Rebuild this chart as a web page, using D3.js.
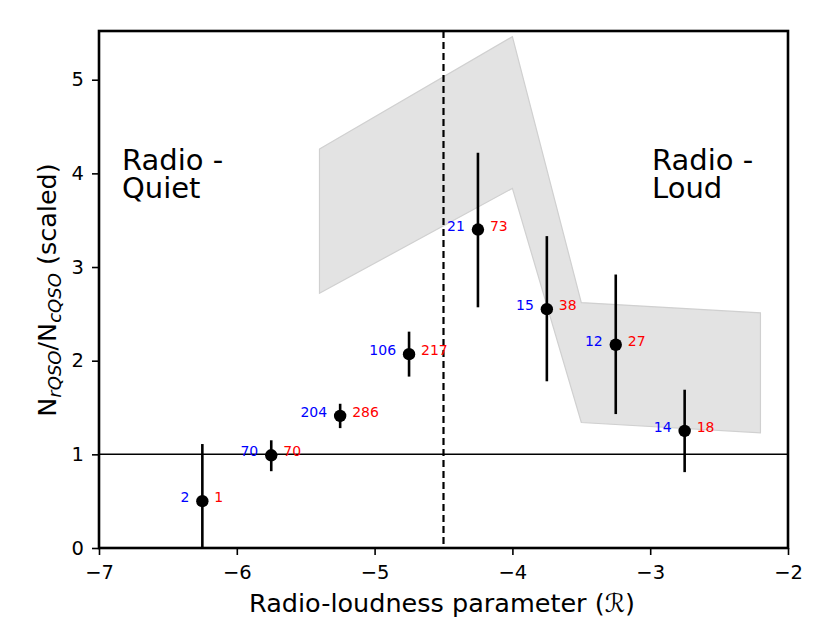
<!DOCTYPE html>
<html>
<head>
<meta charset="utf-8">
<script src="https://cdn.jsdelivr.net/npm/d3@7"></script>
<style>
  body { margin: 0; background: #fff; }
  text { font-family: "DejaVu Sans", sans-serif; }
</style>
</head>
<body>
<script>
// binned radio-loudness data
const xVals = [-6.25, -5.75, -5.25, -4.75, -4.25, -3.75, -3.25, -2.75]
const yVals = [0.50, 0.99, 1.41, 2.07, 3.40, 2.55, 2.17, 1.25]
const yLow = [-0.2, 0.82, 1.28, 1.83, 2.57, 1.78, 1.43, 0.81]
const yHigh = [1.11, 1.15, 1.54, 2.31, 4.22, 3.33, 2.92, 1.69]
const nBlue = [2, 70, 204, 106, 21, 15, 12, 14]
const nRed = [1, 70, 286, 217, 73, 38, 27, 18]

// shaded band
const bandX = [-5.4, -4.0, -3.5, -2.2]
const bandUpper = [4.26, 5.46, 2.62, 2.51]
const bandLower = [2.72, 3.84, 1.34, 1.23]

const xTicks = [-7, -6, -5, -4, -3, -2]
const yTicks = [0, 1, 2, 3, 4, 5]

const W = 830, H = 623
const m = { left: 99, right: 42, top: 31, bottom: 75 }

const svg = d3.select('body').append('svg')
    .attr('width', W)
    .attr('height', H)

const x = d3.scaleLinear().domain([-7, -2]).range([m.left, W - m.right])
const y = d3.scaleLinear().domain([0, 5.52]).range([H - m.bottom, m.top])

svg.append('clipPath').attr('id', 'clip')
  .append('rect')
    .attr('x', m.left).attr('y', m.top)
    .attr('width', W - m.left - m.right)
    .attr('height', H - m.top - m.bottom)

const g = svg.append('g').attr('clip-path', 'url(#clip)')

// band
const band = bandX.map((d, i) => ({ x: d, lo: bandLower[i], hi: bandUpper[i] }))
g.append('path')
    .datum(band)
    .attr('fill', '#e3e3e3')
    .attr('stroke', '#d0d0d0')
    .attr('stroke-width', 1.2)
    .attr('d', d3.area().x(d => x(d.x)).y0(d => y(d.lo)).y1(d => y(d.hi)))

// reference lines
g.append('line')
    .attr('x1', x(-7)).attr('x2', x(-2))
    .attr('y1', y(1)).attr('y2', y(1))
    .attr('stroke', 'black').attr('stroke-width', 1.5)

g.append('line')
    .attr('x1', x(-4.5)).attr('x2', x(-4.5))
    .attr('y1', y(5.52)).attr('y2', y(0))
    .attr('stroke', 'black').attr('stroke-width', 2.2)
    .attr('stroke-dasharray', '7,4')

const pts = xVals.map((d, i) => ({ x: d, y: yVals[i], lo: yLow[i], hi: yHigh[i], b: nBlue[i], r: nRed[i] }))

g.selectAll('.err')
    .data(pts)
    .enter()
    .append('line')
      .attr('x1', d => x(d.x)).attr('x2', d => x(d.x))
      .attr('y1', d => y(d.lo)).attr('y2', d => y(d.hi))
      .attr('stroke', 'black').attr('stroke-width', 2.6)

g.selectAll('circle')
    .data(pts)
    .enter()
    .append('circle')
      .attr('cx', d => x(d.x))
      .attr('cy', d => y(d.y))
      .attr('r', 6.2)
      .attr('fill', 'black')

svg.selectAll('.nb')
    .data(pts)
    .enter()
    .append('text')
      .attr('x', d => x(d.x) - 13)
      .attr('y', d => y(d.y) + 1)
      .attr('text-anchor', 'end')
      .attr('font-size', '14px')
      .attr('fill', 'blue')
      .text(d => d.b)

svg.selectAll('.nr')
    .data(pts)
    .enter()
    .append('text')
      .attr('x', d => x(d.x) + 12)
      .attr('y', d => y(d.y) + 1)
      .attr('font-size', '14px')
      .attr('fill', 'red')
      .text(d => d.r)

// region labels
function label(tx, lines) {
    const t = svg.append('text')
        .attr('x', tx).attr('y', 170)
        .attr('font-size', '29px')
    lines.forEach((s, i) => {
        t.append('tspan').attr('x', tx).attr('dy', i ? 28 : 0).text(s)
    })
}
label(122, ['Radio -', 'Quiet'])
label(652, ['Radio -', 'Loud'])

// axes
const xAxis = svg.append('g')
    .attr('transform', `translate(0,${H - m.bottom})`)
    .call(d3.axisBottom(x).tickValues(xTicks).tickSize(7).tickPadding(10)
        .tickFormat(d => d3.format('d')(d).replace('-', '\u2212')))
const yAxis = svg.append('g')
    .attr('transform', `translate(${m.left},0)`)
    .call(d3.axisLeft(y).tickValues(yTicks).tickSize(7).tickPadding(8)
        .tickFormat(d3.format('d')))

;[xAxis, yAxis].forEach(a => {
    a.select('.domain').remove()
    a.selectAll('line').attr('stroke-width', 1.6)
    a.selectAll('text').attr('font-size', '19.5px').attr('font-family', 'DejaVu Sans')
})

svg.append('rect')
    .attr('x', m.left).attr('y', m.top)
    .attr('width', W - m.left - m.right)
    .attr('height', H - m.top - m.bottom)
    .attr('fill', 'none')
    .attr('stroke', 'black')
    .attr('stroke-width', 2.6)

svg.append('text')
    .attr('x', 442)
    .attr('y', 612)
    .attr('text-anchor', 'middle')
    .attr('font-size', '25.5px')
    .text('Radio-loudness parameter (\u211B)')

const yl = svg.append('text')
    .attr('transform', `translate(56,290) rotate(-90)`)
    .attr('text-anchor', 'middle')
    .attr('font-size', '25.5px')
yl.append('tspan').text('N')
yl.append('tspan').attr('font-size', '18px').attr('font-style', 'italic').attr('dy', 5).text('rQSO')
yl.append('tspan').attr('dy', -5).text('/N')
yl.append('tspan').attr('font-size', '18px').attr('font-style', 'italic').attr('dy', 5).text('cQSO')
yl.append('tspan').attr('dy', -5).text(' (scaled)')
</script>
</body>
</html>
